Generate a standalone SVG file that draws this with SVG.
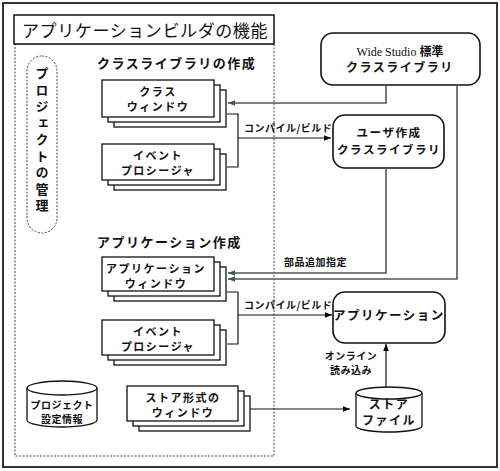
<svg xmlns="http://www.w3.org/2000/svg" width="500" height="471" viewBox="0 0 500 471">
<defs>
<marker id="ah" viewBox="0 0 10 10" refX="10" refY="5" markerWidth="7" markerHeight="7" orient="auto" markerUnits="userSpaceOnUse"><path d="M0,1 L10,5 L0,9 z" fill="#000"/></marker>
<marker id="ahg" viewBox="0 0 10 10" refX="10" refY="5" markerWidth="7" markerHeight="7" orient="auto" markerUnits="userSpaceOnUse"><path d="M0,1 L10,5 L0,9 z" fill="#3a5a50"/></marker>
</defs>
<style>
text{font-family:"Noto Sans CJK JP","Noto Sans",sans-serif;font-weight:bold;fill:#111}
.t{font-size:11px;letter-spacing:1.5px;text-anchor:middle}
.h{font-size:13px;letter-spacing:1.5px}
.l{font-size:10px;letter-spacing:0.5px}
.box{fill:#fff;stroke:#111;stroke-width:1.3}
.rb{fill:#fff;stroke:#111;stroke-width:1.6}
.c{fill:none;stroke:#111;stroke-width:1.2}
.g{fill:none;stroke:#555;stroke-width:1.6}
.d{fill:none;stroke:#444;stroke-width:1;stroke-dasharray:2,1.5}
</style>
<rect x="0" y="0" width="500" height="471" fill="#fff"/>
<rect x="3" y="3" width="494" height="464" fill="none" stroke="#333" stroke-width="2"/>
<g id="frame">
<rect x="15" y="44" width="259" height="412" class="d"/>
<rect x="14" y="15" width="260" height="29" fill="#fff" stroke="#111" stroke-width="1.5"/>
<text x="22" y="37" style="font-size:17px;font-weight:normal;letter-spacing:0.6px">アプリケーションビルダの機能</text>
</g>
<g id="project">
<rect x="27" y="56" width="30" height="177" rx="15" ry="15" class="d" fill="#fff"/>
<text x="42" y="67" style="font-size:13px;writing-mode:vertical-rl;letter-spacing:3.5px">プロジェクトの管理</text>
</g>
<text class="h" x="97" y="68">クラスライブラリの作成</text>
<text class="h" x="97" y="247">アプリケーション作成</text>
<g id="classwin">
<rect x="114" y="90" width="112" height="37" class="box"/>
<rect x="108" y="85" width="112" height="37" class="box"/>
<rect x="102" y="80" width="112" height="37" class="box"/>
<text class="t" x="158" y="96">クラス</text>
<text class="t" x="158" y="111">ウィンドウ</text>
</g>
<g id="event1">
<rect x="114" y="154" width="112" height="36" class="box"/>
<rect x="108" y="149" width="112" height="36" class="box"/>
<rect x="102" y="144" width="112" height="36" class="box"/>
<text class="t" x="158" y="160">イベント</text>
<text class="t" x="158" y="175">プロシージャ</text>
</g>
<g id="appwin">
<rect x="114" y="267" width="112" height="34" class="box"/>
<rect x="108" y="262" width="112" height="34" class="box"/>
<rect x="102" y="257" width="112" height="34" class="box"/>
<text class="t" x="156" y="273">アプリケーション</text>
<text class="t" x="156" y="288">ウィンドウ</text>
</g>
<g id="event2">
<rect x="114" y="330" width="112" height="35" class="box"/>
<rect x="108" y="325" width="112" height="35" class="box"/>
<rect x="102" y="320" width="112" height="35" class="box"/>
<text class="t" x="158" y="336">イベント</text>
<text class="t" x="158" y="351">プロシージャ</text>
</g>
<g id="storewin">
<rect x="139" y="396" width="111" height="35" class="box"/>
<rect x="133" y="391" width="111" height="35" class="box"/>
<rect x="127" y="386" width="111" height="35" class="box"/>
<text class="t" x="183" y="402">ストア形式の</text>
<text class="t" x="183" y="417">ウィンドウ</text>
</g>
<g id="projcyl">
<path d="M27,388 V420 A35,7 0 0 0 97,420 V388" class="box"/>
<ellipse cx="62" cy="388" rx="35" ry="7" class="box"/>
<text class="t" x="62" y="409" style="font-size:10px;letter-spacing:0.5px">プロジェクト</text>
<text class="t" x="62" y="423" style="font-size:10px;letter-spacing:0.5px">設定情報</text>
</g>
<g id="widestudio">
<rect x="321" y="33" width="159" height="52" rx="12" ry="12" class="rb"/>
<text x="400" y="56" style="font-size:12px;text-anchor:middle"><tspan style="font-family:'Liberation Serif',serif;font-weight:normal">Wide Studio </tspan>標準</text>
<text class="t" x="400" y="72" style="font-size:12px">クラスライブラリ</text>
</g>
<g id="userlib">
<rect x="333" y="115" width="111" height="53" rx="12" ry="12" class="rb"/>
<text class="t" x="389" y="137" style="font-size:11.5px">ユーザ作成</text>
<text class="t" x="389" y="154" style="font-size:11.5px">クラスライブラリ</text>
</g>
<g id="app">
<rect x="333" y="292" width="112" height="51" rx="12" ry="12" class="rb"/>
<text class="t" x="389" y="320" style="font-size:12.5px">アプリケーション</text>
</g>
<g id="storefile">
<path d="M356,393 V426 A33,6 0 0 0 422,426 V393" class="box"/>
<ellipse cx="389" cy="393" rx="33" ry="6" class="box"/>
<text class="t" x="389" y="409" style="font-size:12px">ストア</text>
<text class="t" x="389" y="425" style="font-size:12px">ファイル</text>
</g>
<g id="connectors">
<path d="M227,114 H238 V167 H227" class="c"/>
<path d="M238,138 H331" class="c" marker-end="url(#ah)"/>
<path d="M227,292 H238 V344 H227" class="c"/>
<path d="M238,315 H332" class="c" marker-end="url(#ah)"/>
<path d="M386,85 V103 H228" class="g" marker-end="url(#ahg)"/>
<path d="M457,85 V279 H228" class="g" marker-end="url(#ahg)"/>
<path d="M386,168 V273 H228" class="g" marker-end="url(#ahg)"/>
<path d="M250,409 H350" class="c" marker-end="url(#ah)"/>
<path d="M386,387 V344" class="c" marker-end="url(#ah)"/>
<text class="l" x="244" y="132">コンパイル/ビルド</text>
<text class="l" x="244" y="309">コンパイル/ビルド</text>
<text class="l" x="284" y="266">部品追加指定</text>
<text class="l" x="351" y="360" style="text-anchor:middle">オンライン</text>
<text class="l" x="351" y="374" style="text-anchor:middle">読み込み</text>
</g>
</svg>
